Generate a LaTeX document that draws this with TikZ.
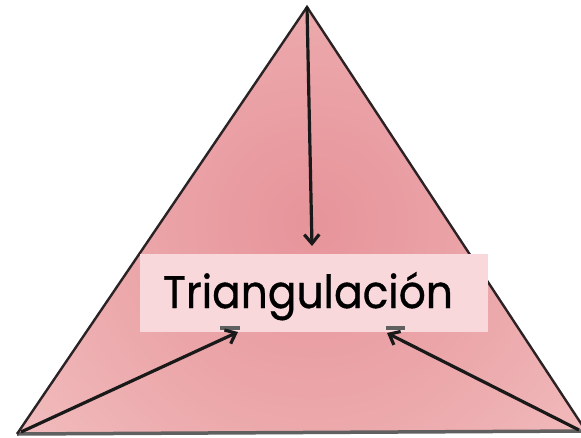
\documentclass[tikz,border=0pt]{standalone}
\usepackage{fontspec}
\newfontfamily\labelfont[FakeBold=0.8]{Poppins}
\usetikzlibrary{arrows.meta}
\definecolor{pcenter}{HTML}{E6949A}
\definecolor{pmid}{HTML}{ECA8AB}
\definecolor{pouter}{HTML}{F7D1D1}
\definecolor{boxpink}{HTML}{F8D8DB}
\definecolor{edgecol}{HTML}{2A2224}
\pgfdeclareradialshading{pinkglow}{\pgfpoint{0bp}{0bp}}{color(0bp)=(pcenter); color(9bp)=(pmid); color(24bp)=(pouter); color(50bp)=(pouter)}
\tikzset{
  arr/.style={draw=black!90, line width=3.2pt, -{Straight Barb[length=9pt,width=15pt]}},
  edge/.style={draw=edgecol, line width=2.4pt, line join=miter},
  smudge/.style={draw=gray!75!black, line width=3.5pt}
}
\begin{document}
\begin{tikzpicture}[x=1pt,y=-1pt]
\useasboundingbox (0,0) rectangle (581,437);
\fill[white] (0,0) rectangle (581,437);
\coordinate (apex) at (307,7);
\coordinate (bl) at (17,434);
\coordinate (br) at (586,431);
\begin{scope}
  \clip (apex) -- (br) -- (bl) -- cycle;
  \shade[shading=pinkglow] (312,222) circle (560);
\end{scope}
\draw[draw=gray!75!black, line width=3.5pt] (bl) -- (br);
\draw[edge] (bl) -- (apex) -- (br);
\node[fill=boxpink, minimum width=348pt, minimum height=78pt, inner sep=0pt] (box) at (314,293) {};
\node[anchor=base, inner sep=0pt] (lbl) at (308,308) {\resizebox{290pt}{36pt}{\labelfont Triangulación}};
\draw[smudge] (220,328) -- (240,328);
\draw[smudge] (386,328) -- (405,328);
\coordinate (ttip) at (312,246);
\coordinate (ltip) at (238,332);
\coordinate (rtip) at (387,333);
\coordinate (lstart) at (21,432);
\coordinate (rstart) at (579,430);
\draw[arr] (apex) -- (ttip);
\draw[arr] (lstart) -- (ltip);
\draw[arr] (rstart) -- (rtip);
\end{tikzpicture}
\end{document}
